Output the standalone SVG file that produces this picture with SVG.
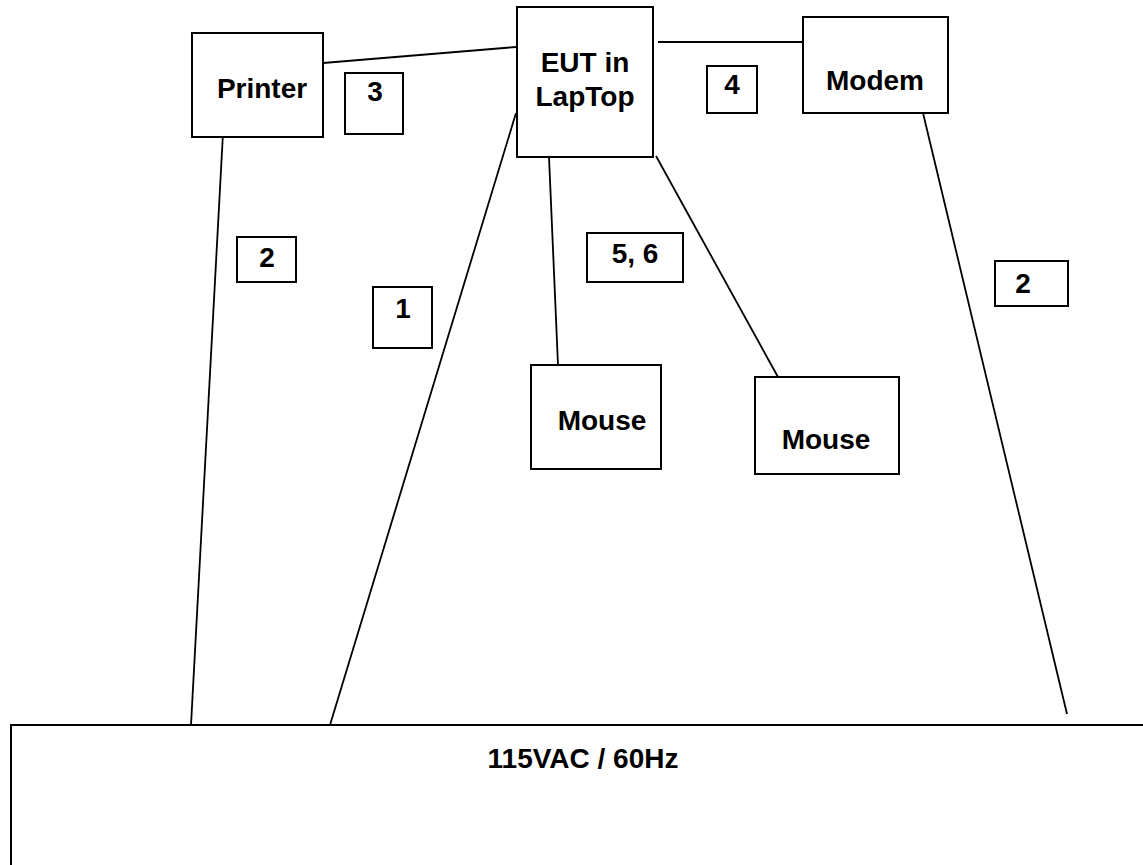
<svg xmlns="http://www.w3.org/2000/svg" width="1143" height="865" viewBox="0 0 1143 865">
  <style>
    .box { fill: #ffffff; stroke: #000000; stroke-width: 2; }
    .wire { fill: none; stroke: #000000; stroke-width: 1.8; }
    .lbl { font-family: "Liberation Sans", Arial, sans-serif; font-weight: bold; font-size: 28px; fill: #000000; text-anchor: middle; }
  </style>
  <rect x="0" y="0" width="1143" height="865" fill="#ffffff"/>

  <!-- cables -->
  <g id="connectors">
    <line class="wire" x1="323" y1="63" x2="516" y2="47"/>
    <line class="wire" x1="658" y1="42" x2="803" y2="42"/>
    <line class="wire" x1="549" y1="157" x2="558" y2="365"/>
    <line class="wire" x1="656" y1="156" x2="778" y2="377"/>
    <line class="wire" x1="516" y1="113" x2="330" y2="725"/>
    <line class="wire" x1="223" y1="133" x2="191" y2="725"/>
    <line class="wire" x1="923" y1="113" x2="1067" y2="714"/>
  </g>

  <g id="power">
    <rect class="box" x="11" y="725" width="1140" height="150"/>
    <text class="lbl" x="583" y="768">115VAC / 60Hz</text>
  </g>

  <g id="printer">
    <rect class="box" x="192" y="33" width="131" height="104"/>
    <text class="lbl" x="262" y="98">Printer</text>
  </g>

  <g id="eut">
    <rect class="box" x="517" y="7" width="136" height="150"/>
    <text class="lbl" x="585" y="72">EUT in</text>
    <text class="lbl" x="585" y="106">LapTop</text>
  </g>

  <g id="modem">
    <rect class="box" x="803" y="17" width="145" height="96"/>
    <text class="lbl" x="875" y="90">Modem</text>
  </g>

  <g id="mouse1">
    <rect class="box" x="531" y="365" width="130" height="104"/>
    <text class="lbl" x="602" y="430">Mouse</text>
  </g>

  <g id="mouse2">
    <rect class="box" x="755" y="377" width="144" height="97"/>
    <text class="lbl" x="826" y="449">Mouse</text>
  </g>

  <!-- cable number tags -->
  <g id="tag3">
    <rect class="box" x="345" y="73" width="58" height="61"/>
    <text class="lbl" x="375" y="101">3</text>
  </g>
  <g id="tag4">
    <rect class="box" x="707" y="66" width="50" height="47"/>
    <text class="lbl" x="732" y="94">4</text>
  </g>
  <g id="tag2a">
    <rect class="box" x="237" y="237" width="59" height="45"/>
    <text class="lbl" x="267" y="267">2</text>
  </g>
  <g id="tag1">
    <rect class="box" x="373" y="287" width="59" height="61"/>
    <text class="lbl" x="403" y="318">1</text>
  </g>
  <g id="tag56">
    <rect class="box" x="587" y="233" width="96" height="49"/>
    <text class="lbl" x="635" y="263">5, 6</text>
  </g>
  <g id="tag2b">
    <rect class="box" x="995" y="261" width="73" height="45"/>
    <text class="lbl" x="1023" y="293">2</text>
  </g>
</svg>
